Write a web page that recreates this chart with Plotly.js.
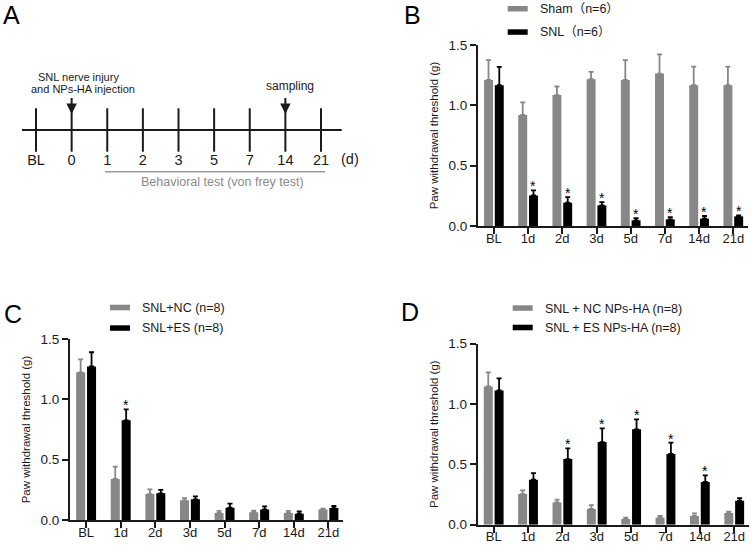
<!DOCTYPE html>
<html><head><meta charset="utf-8">
<script src="https://cdn.plot.ly/plotly-3.0.1.min.js"></script>
<style>html,body{margin:0;padding:0;background:#fff}</style>
</head><body><div id="chart" style="width:752px;height:547px"></div>
<script>
// ---------- Panel A: timeline ----------
const timelineLabels = ['BL','0','1','2','3','5','7','14','21'];
const timelineUnit = '(d)';
const injuryLines = ['SNL nerve injury', 'and NPs-HA injection'];
const injuryAt = '0';
const samplingText = 'sampling';
const samplingAt = '14';
const behaviorText = 'Behavioral test (von frey test)';

// ---------- Panels B, C, D ----------
const days = ['BL','1d','2d','3d','5d','7d','14d','21d'];

// B
const shamName = 'Sham（n=6）';
const shamMean = [1.21, 0.92, 1.085, 1.217, 1.21, 1.263, 1.167, 1.167];
const shamErr  = [0.165, 0.105, 0.071, 0.06, 0.165, 0.16, 0.154, 0.154];
const snlName = 'SNL（n=6）';
const snlMean = [1.167, 0.253, 0.193, 0.171, 0.047, 0.055, 0.061, 0.080];
const snlErr  = [0.151, 0.042, 0.047, 0.027, 0.019, 0.019, 0.022, 0.008];
const snlSig  = ['', '*', '*', '*', '*', '*', '*', '*'];

// C
const ncName = 'SNL+NC (n=8)';
const ncMean = [1.224, 0.340, 0.215, 0.163, 0.058, 0.064, 0.058, 0.086];
const ncErr  = [0.107, 0.102, 0.039, 0.019, 0.017, 0.013, 0.017, 0.008];
const esName = 'SNL+ES (n=8)';
const esMean = [1.273, 0.826, 0.221, 0.171, 0.102, 0.088, 0.052, 0.099];
const esErr  = [0.117, 0.091, 0.028, 0.025, 0.033, 0.025, 0.020, 0.017];
const esSig  = ['', '*', '', '', '', '', '', ''];

// D
const ncNpName = 'SNL + NC NPs-HA (n=8)';
const ncNpMean = [1.146, 0.254, 0.185, 0.130, 0.047, 0.058, 0.072, 0.097];
const ncNpErr  = [0.116, 0.031, 0.022, 0.033, 0.011, 0.014, 0.022, 0.011];
const esNpName = 'SNL + ES NPs-HA (n=8)';
const esNpMean = [1.113, 0.373, 0.544, 0.685, 0.790, 0.586, 0.354, 0.199];
const esNpErr  = [0.100, 0.055, 0.089, 0.113, 0.083, 0.094, 0.055, 0.022];
const esNpSig  = ['', '', '*', '*', '*', '*', '*', ''];

const yTitle = 'Paw withdrawal threshold (g)';

// ---------- styling ----------
const W = 752, H = 547;
const fx = x => x / W;
const fy = y => 1 - y / H;
const FONT = 'Liberation Sans, Arial, Noto Sans CJK SC, sans-serif';
const GRAY = '#878787';
const BLACK = '#000000';
const INK = '#1a1a1a';
const BARGAP = 0.37, GROUPGAP = 0.17;

function bar(name, y, err, color, xa, ya, og) {
  return {
    type: 'bar', name: name, x: days, y: y, xaxis: xa, yaxis: ya,
    offsetgroup: og, marker: {color: color, line: {width: 0}},
    error_y: {type: 'data', symmetric: false, array: err, arrayminus: err.map(() => 0),
              color: color, thickness: 1.8, width: 2.5},
    showlegend: false, hoverinfo: 'x+y'
  };
}

const traces = [
  // timeline ticks
  {type: 'scatter', mode: 'markers', x: timelineLabels, y: timelineLabels.map(() => 0),
   xaxis: 'x', yaxis: 'y', cliponaxis: false, showlegend: false, hoverinfo: 'x',
   marker: {symbol: 'line-ns', size: 31, line: {width: 2, color: INK}, color: INK}},
  bar(shamName, shamMean, shamErr, GRAY, 'x2', 'y2', 'a'),
  bar(snlName, snlMean, snlErr, BLACK, 'x2', 'y2', 'b'),
  bar(ncName, ncMean, ncErr, GRAY, 'x3', 'y3', 'a'),
  bar(esName, esMean, esErr, BLACK, 'x3', 'y3', 'b'),
  bar(ncNpName, ncNpMean, ncNpErr, GRAY, 'x4', 'y4', 'a'),
  bar(esNpName, esNpMean, esNpErr, BLACK, 'x4', 'y4', 'b'),
];

function barX(xd, yd) {
  return {domain: xd, anchor: yd, type: 'category', range: [-0.465, 7.43],
    showline: true, linewidth: 2, linecolor: INK, ticks: 'outside', ticklen: 6, tickwidth: 2,
    tickcolor: INK, tickfont: {size: 13, color: INK}, ticklabelstandoff: -7,
    showgrid: false, zeroline: false, fixedrange: true};
}
function barY(yd, xa) {
  return {domain: yd, anchor: xa, range: [0, 1.5], tickvals: [0, 0.5, 1, 1.5], tickformat: '.1f',
    showline: true, linewidth: 2, linecolor: INK, ticks: 'outside', ticklen: 6, tickwidth: 2,
    tickcolor: INK, tickfont: {size: 13.5, color: INK}, showgrid: false, zeroline: false, fixedrange: true,
    title: {text: yTitle, font: {size: 11.5, color: INK}, standoff: 7}};
}

const annotations = [];
const shapes = [];

// panel letters
[['A', 12, 15], ['B', 412, 15], ['C', 12.5, 314], ['D', 410, 312]].forEach(([t, x, y]) => {
  annotations.push({text: t, xref: 'paper', yref: 'paper', x: fx(x), y: fy(y),
    xanchor: 'center', yanchor: 'middle', showarrow: false, font: {size: 25, color: BLACK}});
});

// stars
function stars(sig, mean, err, xa, ya) {
  const shift = (1 - BARGAP) / 4;
  sig.forEach((s, i) => {
    if (!s) return;
    annotations.push({text: s, xref: xa, yref: ya, x: i + shift, y: mean[i] + err[i],
      yshift: 4, xanchor: 'center', yanchor: 'middle', showarrow: false,
      font: {size: 14, color: BLACK}});
  });
}
stars(snlSig, snlMean, snlErr, 'x2', 'y2');
stars(esSig, esMean, esErr, 'x3', 'y3');
stars(esNpSig, esNpMean, esNpErr, 'x4', 'y4');

// legends
function legend(items, rx, tx) {
  items.forEach(([name, color, ry0, ry1, ty]) => {
    shapes.push({type: 'rect', xref: 'paper', yref: 'paper', x0: fx(rx), x1: fx(rx + 20),
      y0: fy(ry1), y1: fy(ry0), fillcolor: color, line: {width: 0}});
    annotations.push({text: name, xref: 'paper', yref: 'paper', x: fx(tx), y: fy(ty),
      xanchor: 'left', yanchor: 'middle', showarrow: false, font: {size: 12.5, color: INK}});
  });
}
legend([[shamName, GRAY, 6, 11.5, 9], [snlName, BLACK, 29.3, 34.8, 32.3]], 507.7, 537.7);
legend([[ncName, GRAY, 304.7, 310.3, 307.5], [esName, BLACK, 325.3, 330.8, 328]], 110, 140);
legend([[ncNpName, GRAY, 305.3, 310.8, 309], [esNpName, BLACK, 324.7, 330.3, 328]], 512.7, 542.7);

// timeline main line
shapes.push({type: 'line', xref: 'x domain', yref: 'y', x0: 0, x1: 1, y0: 0, y1: 0,
  line: {color: INK, width: 2}});
// behavioural-test bar
shapes.push({type: 'line', xref: 'paper', yref: 'paper', x0: fx(105), x1: fx(325), y0: fy(171.7), y1: fy(171.7),
  line: {color: '#9a9a9a', width: 1.5}});
annotations.push({text: behaviorText, xref: 'paper', yref: 'paper', x: fx(222), y: fy(181.7),
  xanchor: 'center', yanchor: 'middle', showarrow: false, font: {size: 12.5, color: '#8a8a8a'}});
annotations.push({text: timelineUnit, xref: 'paper', yref: 'paper', x: fx(350), y: fy(159),
  xanchor: 'center', yanchor: 'middle', showarrow: false, font: {size: 14.5, color: INK}});
// arrows
[injuryAt, samplingAt].forEach(at => {
  annotations.push({text: ' ', xref: 'x', yref: 'y', x: timelineLabels.indexOf(at), y: 1,
    ax: 0, ay: -19, axref: 'pixel', ayref: 'pixel', showarrow: true, arrowhead: 2,
    arrowsize: 1.05, arrowwidth: 2, arrowcolor: INK, standoff: 1, font: {size: 1}});
});
annotations.push({text: injuryLines[0], xref: 'paper', yref: 'paper', x: fx(78), y: fy(77.3),
  xanchor: 'center', yanchor: 'middle', showarrow: false, font: {size: 11, color: INK}});
annotations.push({text: injuryLines[1], xref: 'paper', yref: 'paper', x: fx(82.5), y: fy(89),
  xanchor: 'center', yanchor: 'middle', showarrow: false, font: {size: 11, color: INK}});
annotations.push({text: samplingText, xref: 'paper', yref: 'paper', x: fx(290.3), y: fy(86),
  xanchor: 'center', yanchor: 'middle', showarrow: false, font: {size: 12, color: INK}});

const layout = {
  width: W, height: H, margin: {l: 0, r: 0, t: 0, b: 0},
  paper_bgcolor: '#fff', plot_bgcolor: 'rgba(0,0,0,0)',
  font: {family: FONT, color: INK},
  showlegend: false, barmode: 'group', bargap: BARGAP, bargroupgap: GROUPGAP,
  xaxis: {domain: [fx(22), fx(341.7)], anchor: 'y', type: 'category', range: [-0.393, 8.581],
    showline: false, ticks: '', showgrid: false, zeroline: false, fixedrange: true,
    tickfont: {size: 14.5, color: INK}, ticklabelstandoff: 4},
  yaxis: {domain: [fy(145), fy(115)], anchor: 'x', range: [-1, 1], visible: false, fixedrange: true},
  xaxis2: barX([fx(478), fx(748)], 'y2'),
  yaxis2: barY([fy(226), fy(45)], 'x2'),
  xaxis3: barX([fx(70), fx(343.3)], 'y3'),
  yaxis3: barY([fy(520), fy(339)], 'x3'),
  xaxis4: barX([fx(477.7), fx(749)], 'y4'),
  yaxis4: barY([fy(524.7), fy(343.7)], 'x4'),
  annotations: annotations, shapes: shapes
};

Plotly.newPlot('chart', traces, layout, {displayModeBar: false, staticPlot: true});
</script></body></html>
